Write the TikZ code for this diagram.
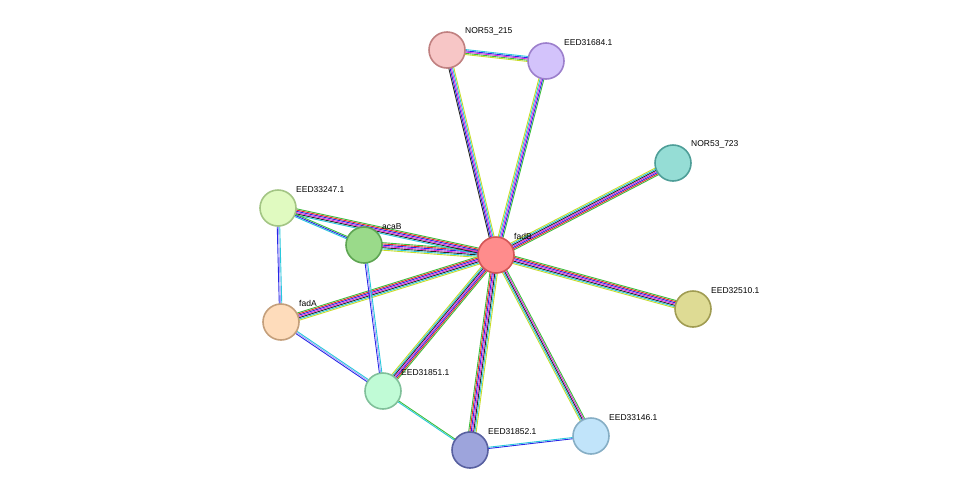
\documentclass[tikz,border=0pt]{standalone}
\usepackage{fontspec}
\setmainfont{Liberation Sans}
\usetikzlibrary{calc}
\definecolor{cnb}{RGB}{60,190,60}
\definecolor{cfu}{RGB}{230,40,40}
\definecolor{cco}{RGB}{40,40,230}
\definecolor{cex}{RGB}{220,40,220}
\definecolor{cxp}{RGB}{40,40,40}
\definecolor{cdb}{RGB}{40,200,220}
\definecolor{ctm}{RGB}{200,220,40}
\definecolor{cho}{RGB}{170,160,250}
\tikzset{
  prot/.style={circle, minimum size=36pt, inner sep=0pt, line width=1.6pt},
  lbl/.style={anchor=south west, inner sep=1pt, font=\fontsize{8.5}{10}\selectfont},
}
% edge macro: colours listed, drawn side by side
\newcommand{\ppi}[3]{%
  \foreach \c [count=\i] in {#3} {\xdef\nl{\i}}%
  \foreach \c [count=\i] in {#3} {%
    \pgfmathsetmacro{\off}{(\i-(\nl+1)/2)*1.25}%
    \draw[\c, line width=0.9pt] ($(#1)!\off pt!90:(#2)$) -- ($(#2)!\off pt!-90:(#1)$);
  }}
\begin{document}
\begin{tikzpicture}[x=1pt,y=-1pt]
\useasboundingbox (0,0) rectangle (975,496);
\coordinate (p215) at (447,50);
\coordinate (p684) at (546,61);
\coordinate (p723) at (673,163);
\coordinate (p247) at (278,208);
\coordinate (paca) at (364,245);
\coordinate (pfadB) at (496,255);
\coordinate (pfadA) at (281,322);
\coordinate (p510) at (693,309);
\coordinate (p851) at (383,391);
\coordinate (p146) at (591,436);
\coordinate (p852) at (470,450);
% edges
\ppi{pfadB}{p215}{ctm,cdb,cex,cco,cxp}
\ppi{pfadB}{p684}{cnb,cco,cex,cdb,ctm}
\ppi{pfadB}{p723}{cnb,cfu,cco,cex,cxp,cdb,ctm}
\ppi{pfadB}{p510}{ctm,cdb,cxp,cex,cco,cfu,cnb}
\ppi{pfadB}{p146}{ctm,cdb,cxp,cex,cnb}
\ppi{pfadB}{p852}{cnb,cfu,cco,cex,cxp,cdb,ctm}
\ppi{pfadB}{p851}{ctm,cdb,cxp,cex,cco,cfu,cnb}
\ppi{pfadB}{pfadA}{cnb,cfu,cco,cex,cxp,cdb,ctm}
\ppi{pfadB}{paca}{cnb,cfu,cco,cex,cxp,cdb,ctm}
\ppi{pfadB}{p247}{cnb,cfu,cco,cex,cxp,cdb}
\ppi{p215}{p684}{ctm,cnb,cex,cco,cdb}
\ppi{p247}{paca}{cdb,cco,cnb}
\ppi{p247}{pfadA}{cco,cho,cdb}
\ppi{paca}{p851}{cco,cho,cdb}
\ppi{pfadA}{p851}{cco,cho,cdb}
\ppi{p851}{p852}{cdb,cnb}
\ppi{p852}{p146}{cco,cdb}
% proteins
\node (n215) [prot, fill={rgb,255:red,247;green,198;blue,198}, draw={rgb,255:red,192;green,128;blue,128}] at (p215) {};
\node (n684) [prot, fill={rgb,255:red,211;green,195;blue,251}, draw={rgb,255:red,156;green,127;blue,204}] at (p684) {};
\node (n723) [prot, fill={rgb,255:red,149;green,221;blue,213}, draw={rgb,255:red,78;green,158;blue,152}] at (p723) {};
\node (n247) [prot, fill={rgb,255:red,224;green,250;blue,192}, draw={rgb,255:red,163;green,197;blue,132}] at (p247) {};
\node (naca) [prot, fill={rgb,255:red,154;green,218;blue,138}, draw={rgb,255:red,94;green,165;blue,82}] at (paca) {};
\node (nfadB) [prot, fill={rgb,255:red,255;green,140;blue,140}, draw={rgb,255:red,211;green,85;blue,85}] at (pfadB) {};
\node (nfadA) [prot, fill={rgb,255:red,254;green,220;blue,187}, draw={rgb,255:red,196;green,159;blue,123}] at (pfadA) {};
\node (n510) [prot, fill={rgb,255:red,222;green,219;blue,148}, draw={rgb,255:red,160;green,156;blue,82}] at (p510) {};
\node (n851) [prot, fill={rgb,255:red,192;green,251;blue,214}, draw={rgb,255:red,128;green,192;blue,154}] at (p851) {};
\node (n146) [prot, fill={rgb,255:red,193;green,228;blue,250}, draw={rgb,255:red,134;green,174;blue,197}] at (p146) {};
\node (n852) [prot, fill={rgb,255:red,157;green,164;blue,220}, draw={rgb,255:red,88;green,96;blue,160}] at (p852) {};
% labels
\node[lbl] at ($(p215)+(17,-14)$) {NOR53\_215};
\node[lbl] at ($(p684)+(17,-14)$) {EED31684.1};
\node[lbl] at ($(p723)+(17,-14)$) {NOR53\_723};
\node[lbl] at ($(p247)+(17,-14)$) {EED33247.1};
\node[lbl] at ($(paca)+(17,-14)$) {acaB};
\node[lbl] at ($(pfadB)+(17,-14)$) {fadB};
\node[lbl] at ($(pfadA)+(17,-14)$) {fadA};
\node[lbl] at ($(p510)+(17,-14)$) {EED32510.1};
\node[lbl] at ($(p851)+(17,-14)$) {EED31851.1};
\node[lbl] at ($(p146)+(17,-14)$) {EED33146.1};
\node[lbl] at ($(p852)+(17,-14)$) {EED31852.1};
\end{tikzpicture}
\end{document}
